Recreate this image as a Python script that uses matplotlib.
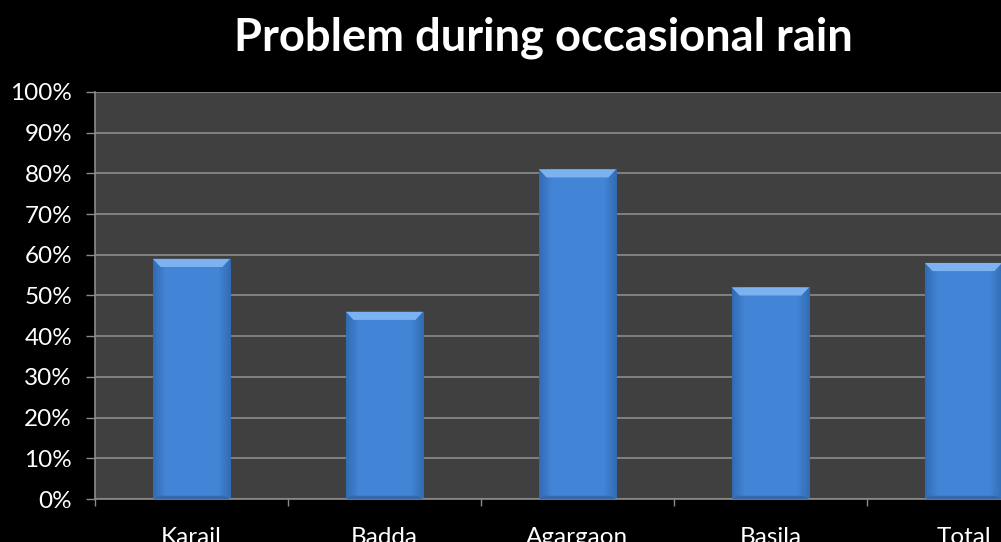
import matplotlib
matplotlib.use("Agg")
import matplotlib.pyplot as plt
import numpy as np
from matplotlib.ticker import FixedLocator, PercentFormatter

categories = ["Karail", "Badda", "Agargaon", "Basila", "Total"]
values = [59, 46, 81, 52, 58]
title = "Problem during occasional rain"

plt.rcParams['font.family'] = ['Lato', 'DejaVu Sans']

fig = plt.figure(figsize=(10.01, 5.42), dpi=100, facecolor='black')
ax = fig.add_axes([0.0949, 0.0793, 0.964, 0.751])
ax.set_facecolor('#404040')

x = np.arange(len(categories))
width = 0.4
bars = ax.bar(x, values, width=width, color='#3E7CCB', edgecolor='#2A5A95', linewidth=0.8, zorder=2)

# horizontal gradient fill for bevelled look
grad = np.linspace(0, 1, 256)
prof = 1 - np.abs(grad - 0.5) * 2
prof = np.clip(prof * 3, 0, 1)
c_edge = np.array([0.20, 0.42, 0.70])
c_mid = np.array([0.26, 0.52, 0.84])
img = c_edge[None, :] + (c_mid - c_edge)[None, :] * prof[:, None]
img = img[None, :, :]
for b in bars:
    x0, w, h = b.get_x(), b.get_width(), b.get_height()
    im = ax.imshow(img, extent=[x0, x0 + w, 0, h], aspect='auto', zorder=2.5, interpolation='bilinear')
    im.set_clip_path(b)
    # top bevel
    ax.fill([x0, x0 + w, x0 + w * 0.9, x0 + w * 0.1], [h, h, h - 2.0, h - 2.0],
            color='#7DB2F0', zorder=3, linewidth=0)
    # bottom shade
    ax.fill([x0, x0 + w, x0 + w * 0.93, x0 + w * 0.07], [0, 0, 0.8, 0.8],
            color='#3568A8', zorder=3, linewidth=0)

ax.set_xlim(-0.5, 4.5)
ax.set_ylim(0, 100)
ax.set_yticks(np.arange(0, 101, 10))
ax.yaxis.set_major_formatter(PercentFormatter(decimals=0))
ax.grid(axis='y', color='#8C8C8C', linewidth=1.2, zorder=1)
ax.set_axisbelow(True)

ax.set_xticks(x)
ax.set_xticklabels(categories)
ax.xaxis.set_minor_locator(FixedLocator(np.arange(-0.5, 5, 1.0)))
ax.tick_params(axis='x', which='major', length=0, pad=20.5, labelsize=17.5, colors='white')
ax.tick_params(axis='x', which='minor', length=5, width=1, color='#8C8C8C', direction='out')
ax.tick_params(axis='y', length=6.5, width=1, color='#8C8C8C', labelsize=17.5, labelcolor='white', pad=10)

for s in ['top', 'right']:
    ax.spines[s].set_visible(False)
for s in ['left', 'bottom']:
    ax.spines[s].set_color('#8C8C8C')
    ax.spines[s].set_linewidth(1.2)

fig.text(0.543, 0.93, title, ha='center', va='center', color='white', fontsize=32.7, fontweight='bold')

fig.savefig('out.png', dpi=100, facecolor='black')
